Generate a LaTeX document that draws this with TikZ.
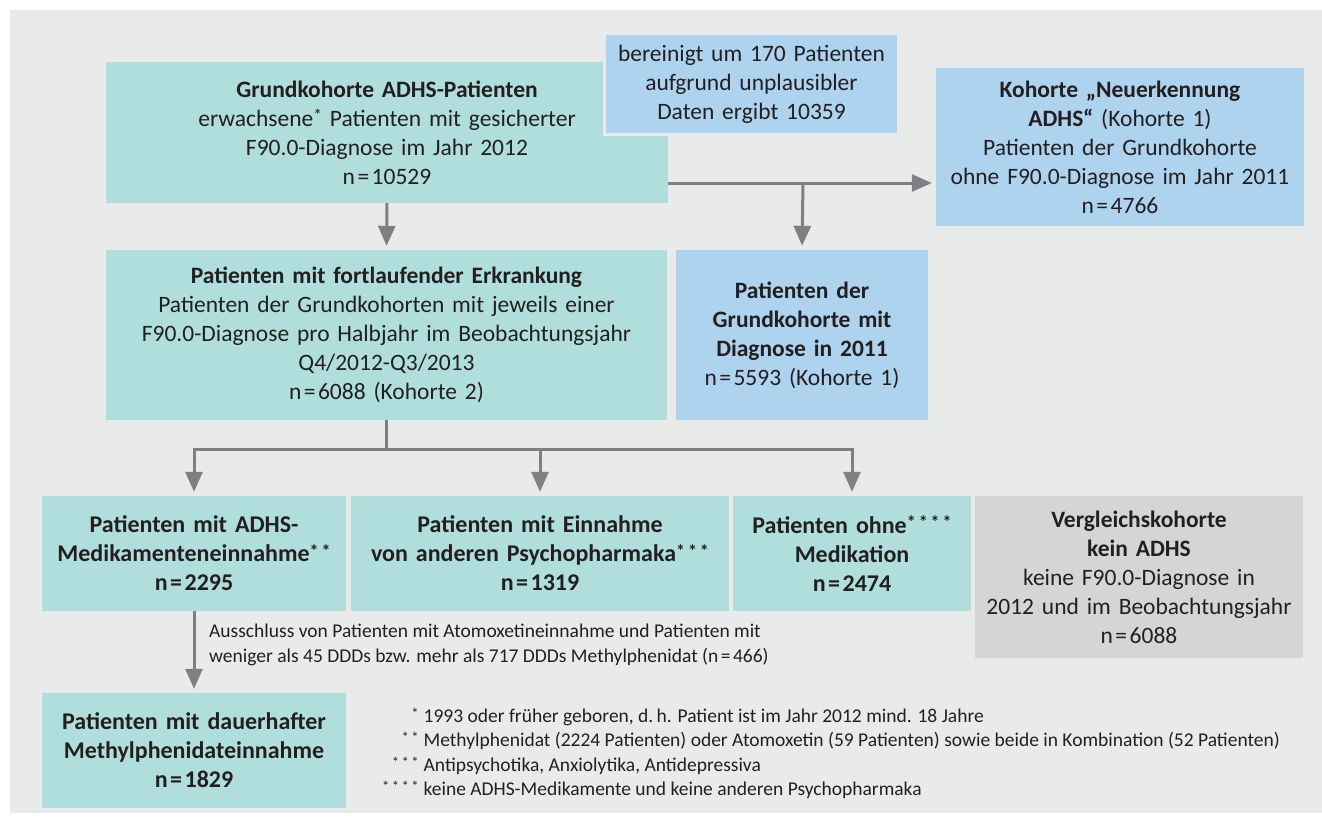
\documentclass[tikz,border=0pt]{standalone}
\usepackage{fontspec}
\usepackage{graphicx}
\setmainfont{Carlito}
\usetikzlibrary{arrows.meta}
\definecolor{hgrau}{HTML}{E9EBEA}
\definecolor{tuerkis}{HTML}{B0DEDD}
\definecolor{hblau}{HTML}{AED3EE}
\definecolor{kgrau}{HTML}{D4D5D7}
\definecolor{pgrau}{HTML}{808084}
\definecolor{schrift}{HTML}{231F20}
\tikzset{box/.style={inner sep=0pt,align=center,text=schrift,
    font=\fontsize{23.5}{29}\selectfont},
  tbox/.style={box,fill=tuerkis},
  bbox/.style={box,fill=hblau},
  gbox/.style={box,fill=kgrau},
  fett/.style={font=\bfseries\fontsize{24}{29}\selectfont},
  pfeil/.style={draw=pgrau,line width=3pt,-{Triangle[width=17pt,length=20pt]},shorten >=4pt},
  linie/.style={draw=pgrau,line width=3pt},
  klein/.style={inner sep=0pt,align=left,text=schrift,
    font=\fontsize{19.5}{24.5}\selectfont}}
\newcommand{\nn}[1]{n\kern2.5pt=\kern2.5pt#1}
\newcommand{\st}[1]{\raisebox{0.2em}{\scalebox{0.75}{#1}}}

\begin{document}
\begin{tikzpicture}[x=1pt,y=-1pt]
  \useasboundingbox (0,0) rectangle (1322,823);
  \fill[hgrau] (10,10) rectangle (1322,813);

  % obere Reihe
  \node[tbox,minimum width=562pt,minimum height=141pt,text width=545pt] (grund) at (387,132.5)
    {\textbf{Grundkohorte ADHS-Patienten}\\
     erwachsene\st{*} Patienten mit gesicherter\\
     F90.0-Diagnose im Jahr 2012\\
     \nn{10529}};
  \node[bbox,draw=hgrau,line width=3pt,minimum width=294pt,minimum height=101pt,text width=285pt] (bereinigt) at (751.5,84)
    {bereinigt um 170 Patienten\\
     aufgrund unplausibler\\
     Daten ergibt 10359};
  \node[bbox,minimum width=368pt,minimum height=158pt,text width=360pt] (neu) at (1120,147)
    {\textbf{Kohorte „Neuerkennung}\\
     \textbf{ADHS“} (Kohorte 1)\\
     Patienten der Grundkohorte\\
     ohne F90.0-Diagnose im Jahr 2011\\
     \nn{4766}};

  % mittlere Reihe
  \node[tbox,minimum width=561pt,minimum height=170pt,text width=550pt] (fortl) at (386.5,335)
    {\textbf{Patienten mit fortlaufender Erkrankung}\\
     Patienten der Grundkohorten mit jeweils einer\\
     F90.0-Diagnose pro Halbjahr im Beobachtungsjahr\\
     Q4/2012-Q3/2013\\
     \nn{6088} (Kohorte 2)};
  \node[bbox,minimum width=252pt,minimum height=170pt,text width=245pt] (diag) at (802,335)
    {\textbf{Patienten der}\\
     \textbf{Grundkohorte mit}\\
     \textbf{Diagnose in 2011}\\
     \nn{5593} (Kohorte 1)};

  % untere Reihe
  \node[tbox,fett,minimum width=304pt,minimum height=115pt,text width=300pt] (adhs) at (194,553.5)
    {Patienten mit ADHS-\\
     Medikamenteneinnahme\st{*\,*}\\
     \nn{2295}};
  \node[tbox,fett,minimum width=378pt,minimum height=115pt,text width=374pt] (psych) at (540,553.5)
    {Patienten mit Einnahme\\
     von anderen Psychopharmaka\st{*\,*\,*}\\
     \nn{1319}};
  \node[tbox,fett,minimum width=238pt,minimum height=115pt,text width=234pt] (ohne) at (852,553.5)
    {Patienten ohne\st{*\,*\,*\,*}\\
     Medikation\\
     \nn{2474}};
  \node[gbox,minimum width=328pt,minimum height=162pt,text width=324pt] (vergl) at (1139,577)
    {\textbf{Vergleichskohorte}\\
     \textbf{kein ADHS}\\
     keine F90.0-Diagnose in\\
     2012 und im Beobachtungsjahr\\
     \nn{6088}};
  \node[tbox,fett,minimum width=304pt,minimum height=115pt,text width=300pt] (dauer) at (194,750.5)
    {Patienten mit dauerhafter\\
     Methylphenidateinnahme\\
     \nn{1829}};

  % Pfeile
  \coordinate (split) at (803,183);
  \draw[pfeil] (grund.south) -- (fortl.north);
  \draw[pfeil] (grund.east |- split) -- (split -| neu.west);
  \draw[pfeil] (split) -- (diag.north);
  \draw[linie] (fortl.south) -- ++(0,29) coordinate (fork);
  \draw[pfeil] (fork) -| (adhs.north);
  \draw[pfeil] (fork) -| (psych.north);
  \draw[pfeil] (fork) -| (ohne.north);
  \draw[pfeil] (adhs.south) -- (dauer.north);

  % Texte
  \node[klein,anchor=north west] (ausschluss) at (209,624)
    {Ausschluss von Patienten mit Atomoxetineinnahme und Patienten mit\\
     weniger als 45 DDDs bzw. mehr als 717 DDDs Methylphenidat (\nn{466})};
  \node[klein,anchor=north west] (fussnoten) at (382,705)
    {\begin{tabular}{@{}r@{\hspace{5pt}}l@{}}
      \st{*} & 1993 oder früher geboren, d.\,h. Patient ist im Jahr 2012 mind. 18 Jahre\\
      \st{*\,*} & Methylphenidat (2224 Patienten) oder Atomoxetin (59 Patienten) sowie beide in Kombination (52 Patienten)\\
      \st{*\,*\,*} & Antipsychotika, Anxiolytika, Antidepressiva\\
      \st{*\,*\,*\,*} & keine ADHS-Medikamente und keine anderen Psychopharmaka
     \end{tabular}};
\end{tikzpicture}
\end{document}
